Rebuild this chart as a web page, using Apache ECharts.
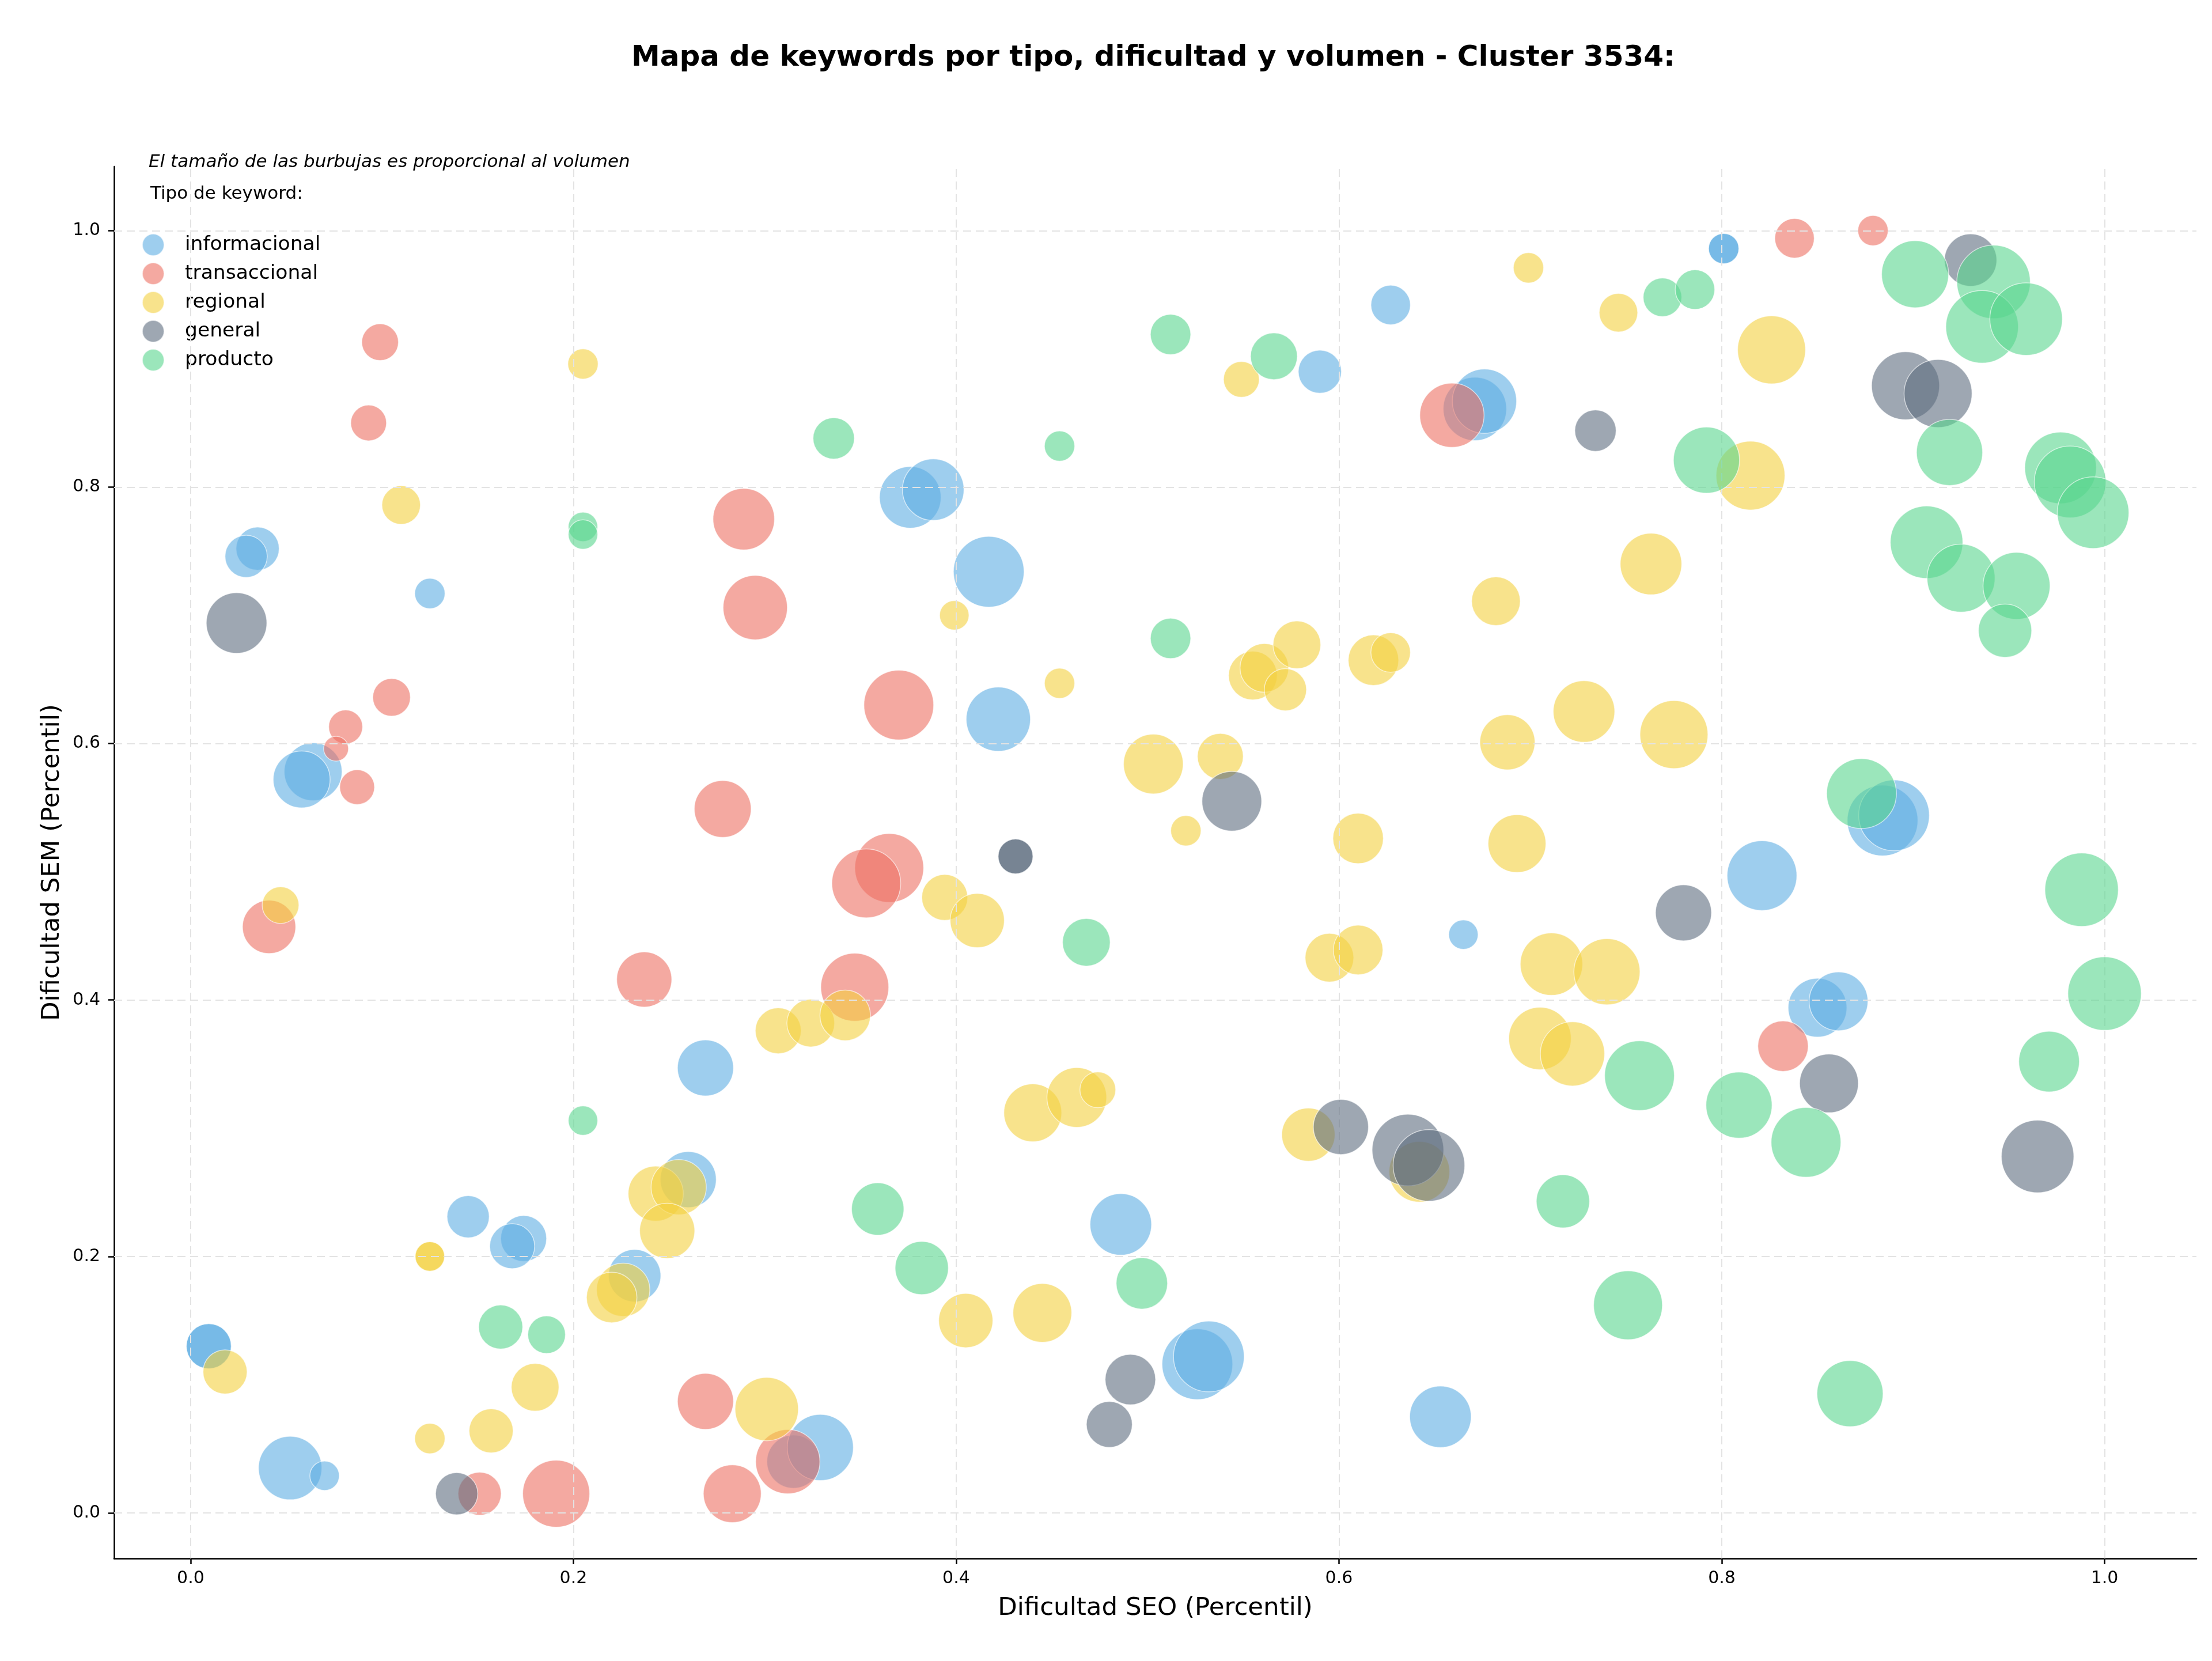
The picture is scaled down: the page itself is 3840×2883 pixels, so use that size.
<!DOCTYPE html>
<html>
<head>
<meta charset="utf-8">
<title>Mapa de keywords</title>
<script src="https://cdn.jsdelivr.net/npm/echarts@6/dist/echarts.min.js"></script>
<style>
  html, body { margin: 0; padding: 0; background: #fff; }
  #chart { width: 3840px; height: 2883px; }
</style>
</head>
<body>
<div id="chart"></div>
<script>
// Tipos de keyword (orden de dibujo de matplotlib)
var TIPOS = ['informacional', 'transaccional', 'regional', 'general', 'producto'];
var COLORES = ['#5DADE2', '#EC7063', '#F4D03F', '#5D6D7E', '#58D68D'];
var TICKS = [0, 0.2, 0.4, 0.6, 0.8, 1.0];

// informacional
var infoSeo = [0.035, 0.029, 0.125, 0.064, 0.058, 0.627, 0.590, 0.671, 0.676, 0.376, 0.388, 0.417, 0.422,
  0.801, 0.801, 0.884, 0.890, 0.821, 0.850, 0.861, 0.665, 0.269, 0.260, 0.145, 0.174, 0.168, 0.232,
  0.0095, 0.0095, 0.052, 0.070, 0.486, 0.526, 0.532, 0.653, 0.315, 0.329];
var infoSem = [0.752, 0.746, 0.717, 0.578, 0.572, 0.942, 0.890, 0.861, 0.867, 0.792, 0.798, 0.734, 0.619,
  0.986, 0.986, 0.540, 0.544, 0.497, 0.394, 0.399, 0.451, 0.347, 0.260, 0.231, 0.214, 0.208, 0.185,
  0.130, 0.130, 0.035, 0.029, 0.225, 0.116, 0.122, 0.075, 0.040, 0.051];
var infoVol = [351, 336, 173, 630, 610, 294, 351, 756, 778, 713, 713, 941, 778,
  173, 173, 941, 941, 917, 650, 650, 163, 591, 591, 336, 397, 381, 516,
  381, 381, 756, 163, 713, 941, 941, 713, 534, 823];

// transaccional
var transSeo = [0.099, 0.093, 0.289, 0.295, 0.105, 0.081, 0.076, 0.087, 0.278, 0.659, 0.370, 0.365, 0.353,
  0.838, 0.879, 0.041, 0.237, 0.347, 0.832, 0.151, 0.191, 0.269, 0.283, 0.312];
var transSem = [0.913, 0.850, 0.775, 0.706, 0.636, 0.613, 0.596, 0.566, 0.549, 0.856, 0.630, 0.503, 0.491,
  0.994, 1.000, 0.457, 0.416, 0.410, 0.364, 0.015, 0.015, 0.087, 0.015, 0.040];
var transVol = [254, 241, 713, 778, 267, 217, 116, 229, 610, 778, 917, 893, 893,
  294, 173, 534, 572, 870, 480, 351, 846, 591, 630, 778];

// regional
var regSeo = [0.205, 0.110, 0.699, 0.549, 0.399, 0.454, 0.555, 0.561, 0.578, 0.572, 0.618, 0.627, 0.682,
  0.688, 0.503, 0.538, 0.520, 0.610, 0.693, 0.746, 0.826, 0.815, 0.763, 0.728, 0.775, 0.047, 0.394,
  0.411, 0.595, 0.610, 0.711, 0.740, 0.307, 0.324, 0.342, 0.705, 0.722, 0.440, 0.463, 0.474, 0.584,
  0.642, 0.243, 0.255, 0.249, 0.125, 0.125, 0.226, 0.220, 0.405, 0.445, 0.018, 0.180, 0.301, 0.157, 0.125];
var regSem = [0.896, 0.786, 0.971, 0.884, 0.700, 0.647, 0.653, 0.659, 0.677, 0.642, 0.665, 0.671, 0.711,
  0.601, 0.584, 0.590, 0.532, 0.526, 0.522, 0.936, 0.907, 0.809, 0.740, 0.625, 0.607, 0.474, 0.480,
  0.462, 0.433, 0.439, 0.428, 0.422, 0.376, 0.382, 0.388, 0.370, 0.358, 0.312, 0.324, 0.330, 0.295,
  0.266, 0.249, 0.254, 0.220, 0.200, 0.200, 0.174, 0.168, 0.150, 0.156, 0.110, 0.098, 0.081, 0.064, 0.058];
var regVol = [173, 280, 173, 241, 163, 173, 446, 446, 429, 336, 480, 294, 446,
  572, 671, 397, 173, 480, 630, 280, 870, 893, 713, 713, 870, 254, 397,
  553, 446, 463, 734, 823, 397, 429, 480, 734, 778, 630, 671, 241, 534,
  692, 572, 572, 572, 163, 163, 534, 480, 553, 650, 366, 429, 756, 366, 173];

// general
var genSeo = [0.024, 0.544, 0.431, 0.431, 0.930, 0.896, 0.913, 0.734, 0.780, 0.601, 0.636, 0.647, 0.856,
  0.965, 0.491, 0.480, 0.139];
var genSem = [0.694, 0.555, 0.512, 0.512, 0.977, 0.879, 0.873, 0.844, 0.468, 0.301, 0.283, 0.271, 0.335,
  0.278, 0.104, 0.069, 0.015];
var genVol = [692, 671, 229, 229, 516, 870, 870, 322, 591, 572, 966, 966, 650,
  991, 480, 397, 336];

// producto
var prodSeo = [0.336, 0.205, 0.205, 0.512, 0.566, 0.454, 0.512, 0.901, 0.942, 0.936, 0.959, 0.769, 0.786,
  0.792, 0.919, 0.977, 0.982, 0.994, 0.907, 0.925, 0.954, 0.948, 0.873, 0.988, 1.000, 0.468, 0.971,
  0.757, 0.809, 0.844, 0.205, 0.359, 0.717, 0.382, 0.497, 0.751, 0.162, 0.186, 0.867];
var prodSem = [0.838, 0.769, 0.763, 0.919, 0.902, 0.832, 0.682, 0.966, 0.960, 0.925, 0.931, 0.948, 0.954,
  0.821, 0.827, 0.815, 0.804, 0.780, 0.757, 0.729, 0.723, 0.688, 0.561, 0.486, 0.405, 0.445, 0.352,
  0.341, 0.318, 0.289, 0.306, 0.237, 0.243, 0.191, 0.179, 0.162, 0.145, 0.139, 0.093];
var prodVol = [322, 163, 163, 307, 413, 173, 307, 846, 1016, 991, 991, 280, 294,
  823, 823, 966, 966, 966, 991, 870, 846, 534, 917, 1016, 1016, 429, 692,
  917, 823, 917, 163, 516, 534, 534, 498, 893, 366, 267, 823];

var columnas = [
  [infoSeo, infoSem, infoVol],
  [transSeo, transSem, transVol],
  [regSeo, regSem, regVol],
  [genSeo, genSem, genVol],
  [prodSeo, prodSem, prodVol]
];

function puntos(cols) {
  return cols[0].map(function (x, i) {
    return [x, cols[1][i], cols[2][i]];
  });
}

var gridStyle = { color: '#e3e3e3', width: 2, type: [14, 8] };

// lineas de rejilla en los ticks
var gridLines = [];
TICKS.forEach(function (t) {
  gridLines.push({ xAxis: t });
  gridLines.push({ yAxis: t });
});

var series = [{
  type: 'scatter',
  data: [],
  silent: true,
  z: 1,
  markLine: {
    silent: true,
    symbol: 'none',
    label: { show: false },
    lineStyle: gridStyle,
    animation: false,
    data: gridLines
  }
}];

TIPOS.forEach(function (tipo, k) {
  series.push({
    name: tipo,
    type: 'scatter',
    z: 2 + k,
    data: puntos(columnas[k]),
    symbolSize: function (val) {
      return 4 * Math.sqrt(val[2]);
    },
    itemStyle: {
      color: COLORES[k],
      opacity: 0.6,
      borderColor: '#ffffff',
      borderWidth: 1.5
    }
  });
});

var axisFont = { fontFamily: 'DejaVu Sans', color: '#000' };

var option = {
  animation: false,
  backgroundColor: '#ffffff',
  textStyle: { fontFamily: 'DejaVu Sans' },
  title: {
    text: 'Mapa de keywords por tipo, dificultad y volumen - Cluster 3534:',
    left: 1997,
    top: 71,
    textAlign: 'center',
    textStyle: { fontFamily: 'DejaVu Sans', fontSize: 50, fontWeight: 'bold', color: '#000' }
  },
  legend: {
    data: TIPOS,
    orient: 'vertical',
    left: 246,
    top: 405,
    padding: 0,
    icon: 'circle',
    itemWidth: 38,
    itemHeight: 38,
    itemGap: 10,
    textStyle: { fontFamily: 'DejaVu Sans', fontSize: 34.5, color: '#000', lineHeight: 38, padding: [0, 0, 0, 31] }
  },
  graphic: [{
    type: 'text',
    left: 258,
    top: 266,
    style: { text: 'El tamaño de las burbujas es proporcional al volumen', fontFamily: 'DejaVu Sans',
      fontStyle: 'italic', fontSize: 31, fill: '#000' }
  }, {
    type: 'text',
    left: 261,
    top: 321,
    style: { text: 'Tipo de keyword:', fontFamily: 'DejaVu Sans', fontSize: 31, fill: '#000' }
  }],
  grid: { left: 198, right: 27, top: 289, bottom: 178, containLabel: false },
  xAxis: {
    type: 'value',
    min: -0.040,
    max: 1.048,
    name: 'Dificultad SEO (Percentil)',
    nameLocation: 'middle',
    nameGap: 65,
    nameTextStyle: { fontFamily: 'DejaVu Sans', fontSize: 43.5, color: '#000' },
    axisLine: { show: true, onZero: false, lineStyle: { color: '#000', width: 2.5 } },
    axisTick: { show: true, length: 10, lineStyle: { color: '#000', width: 2.5 }, customValues: TICKS },
    axisLabel: Object.assign({ fontSize: 30, margin: 20, customValues: TICKS,
      formatter: function (v) { return v.toFixed(1); } }, axisFont),
    splitLine: { show: false }
  },
  yAxis: {
    type: 'value',
    min: -0.0355,
    max: 1.050,
    name: 'Dificultad SEM (Percentil)',
    nameLocation: 'middle',
    nameRotate: 90,
    nameGap: 85,
    nameTextStyle: { fontFamily: 'DejaVu Sans', fontSize: 43.5, color: '#000' },
    axisLine: { show: true, onZero: false, lineStyle: { color: '#000', width: 2.5 } },
    axisTick: { show: true, length: 10, lineStyle: { color: '#000', width: 2.5 }, customValues: TICKS },
    axisLabel: Object.assign({ fontSize: 30, margin: 24, customValues: TICKS,
      formatter: function (v) { return v.toFixed(1); } }, axisFont),
    splitLine: { show: false }
  },
  series: series
};

var chart = echarts.init(document.getElementById('chart'), null, { renderer: 'canvas' });
chart.setOption(option);
</script>
</body>
</html>
